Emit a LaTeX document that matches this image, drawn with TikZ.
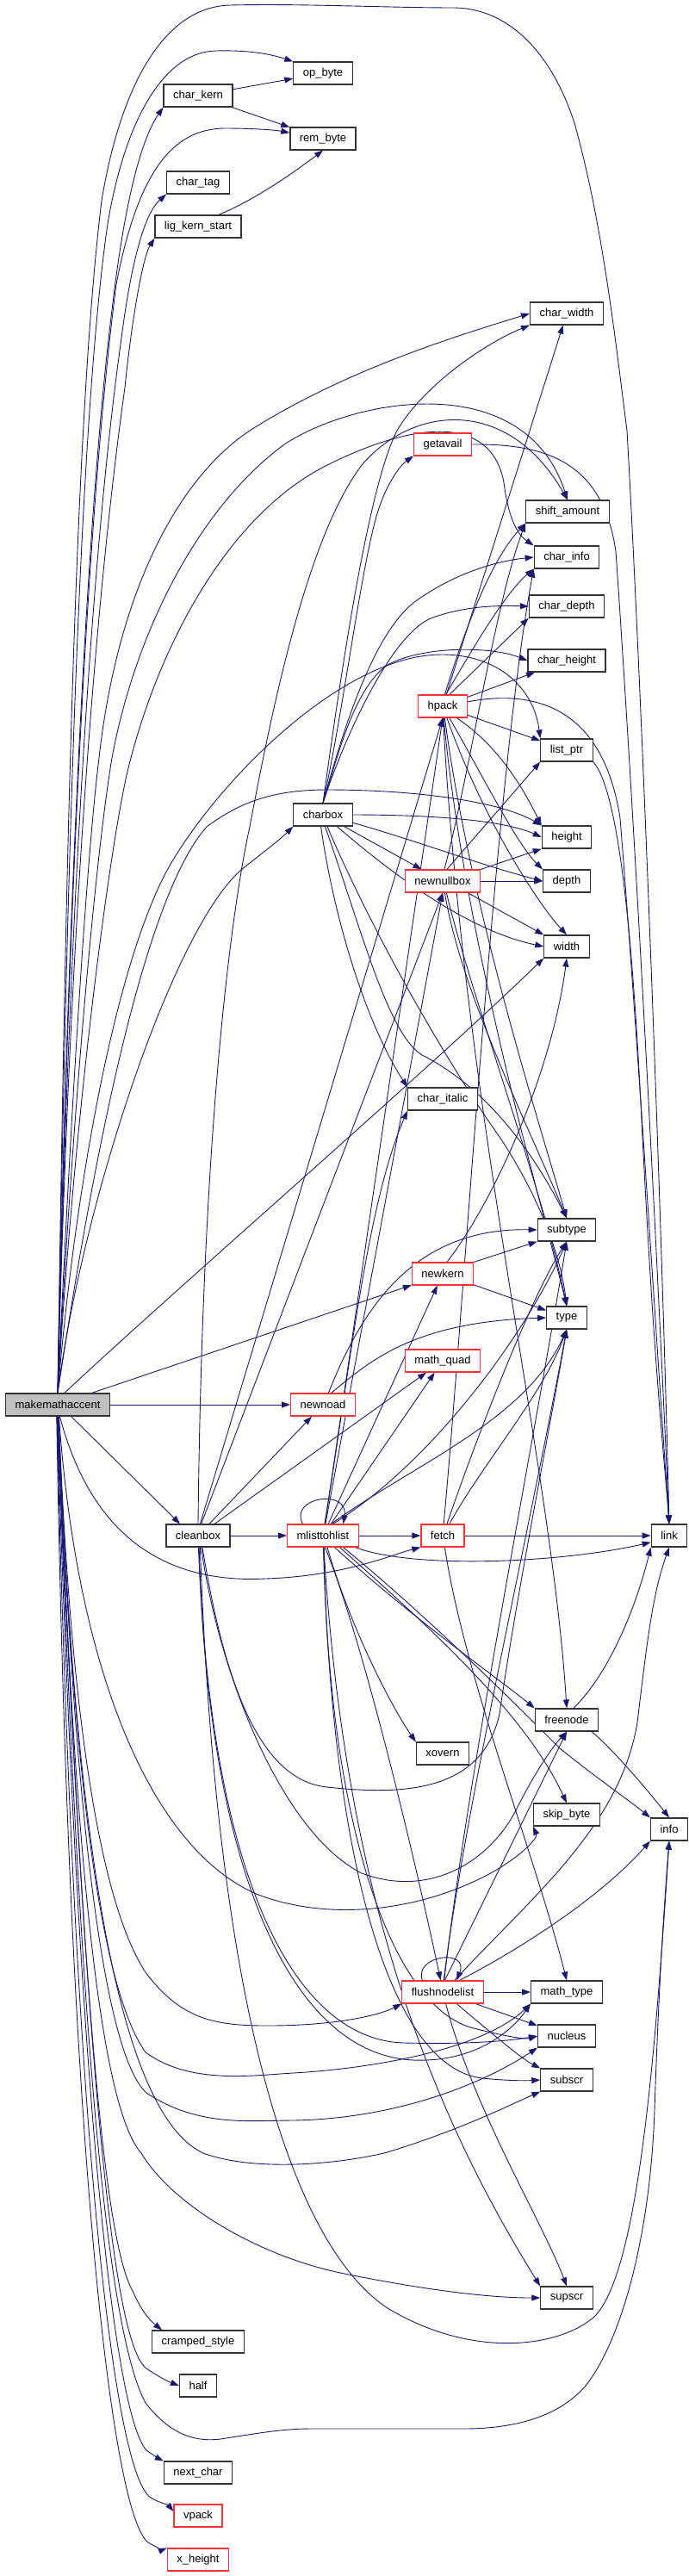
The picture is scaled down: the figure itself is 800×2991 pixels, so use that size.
\documentclass[tikz,border=0pt]{standalone}
\usepackage{fontspec}
\setmainfont{Liberation Sans}
\usetikzlibrary{arrows.meta}
\pgfdeclarelayer{bg}
\pgfsetlayers{bg,main}
\definecolor{eb}{HTML}{191970}
\definecolor{nred}{HTML}{FF3030}
\definecolor{ngray}{HTML}{BFBFBF}
\begin{document}
\begin{tikzpicture}[x=1pt,y=-1pt,
  box/.style={draw=black!80, line width=1.2pt, fill=white, minimum height=26pt, inner xsep=11pt, inner ysep=0pt, font=\fontsize{13}{13}\selectfont},
  rbox/.style={box, draw=nred},
  gbox/.style={box, fill=ngray},
  conn/.style={draw=eb, line width=0.9pt, -{Triangle[length=10pt,width=7pt]}}]
\useasboundingbox (0,0) rectangle (800,2991);
% nodes
\node[box] (opb) at (375,85) {op\_byte};
\node[box] (ck) at (230,111) {char\_kern};
\node[box] (rb) at (375,161) {rem\_byte};
\node[box] (ct) at (230,212) {char\_tag};
\node[box] (lks) at (230,263) {lig\_kern\_start};
\node[box] (cw) at (658,364) {char\_width};
\node[rbox] (ga) at (514,516) {getavail};
\node[box] (sa) at (659,594) {shift\_amount};
\node[box] (ci) at (658,647) {char\_info};
\node[box] (cd) at (658,704) {char\_depth};
\node[box] (chh) at (658,767) {char\_height};
\node[rbox] (hp) at (514,820) {hpack};
\node[box] (lp) at (658,871) {list\_ptr};
\node[box] (cb) at (375,946) {charbox};
\node[box] (ht) at (658,972) {height};
\node[rbox] (nnb) at (514,1023) {newnullbox};
\node[box] (dp) at (658,1023) {depth};
\node[box] (wd) at (658,1099) {width};
\node[box] (cit) at (514,1276) {char\_italic};
\node[box] (st) at (658,1428) {subtype};
\node[rbox] (nk) at (514,1479) {newkern};
\node[box] (ty) at (658,1530) {type};
\node[rbox] (mq) at (514,1580) {math\_quad};
\node[gbox] (M) at (67,1631) {makemathaccent};
\node[rbox] (nn) at (375,1631) {newnoad};
\node[box] (cl) at (230,1783) {cleanbox};
\node[rbox] (ml) at (375,1783) {mlisttohlist};
\node[rbox] (fe) at (514,1783) {fetch};
\node[box] (lk) at (777,1783) {link};
\node[box] (fn) at (658,1997) {freenode};
\node[box] (xo) at (514,2036) {xovern};
\node[box] (sb) at (658,2107) {skip\_byte};
\node[box] (inf) at (777,2124) {info};
\node[rbox] (fl) at (514,2313) {flushnodelist};
\node[box] (mt) at (658,2313) {math\_type};
\node[box] (nu) at (658,2364) {nucleus};
\node[box] (ss) at (658,2415) {subscr};
\node[box] (sp) at (658,2668) {supscr};
\node[box] (cs) at (230,2719) {cramped\_style};
\node[box] (hf) at (230,2770) {half};
\node[box] (nc) at (230,2871) {next\_char};
\node[rbox] (vp) at (230,2921) {vpack};
\node[rbox] (xh) at (230,2972) {x\_height};
\begin{pgfonlayer}{bg}
% makemathaccent upward
\draw[conn] (M.north) .. controls (75,1100) and (85,500) .. (118,233) .. controls (140,100) and (190,8) .. (267,6) .. controls (350,4) and (450,9) .. (528,9) .. controls (590,10) and (640,60) .. (667,143) .. controls (700,260) and (715,400) .. (728,500) .. controls (745,800) and (768,1400) .. (lk.north);
\draw[conn] (M.north) .. controls (76,1100) and (90,500) .. (125,260) .. controls (145,140) and (190,60) .. (251,59) .. controls (290,58) and (315,63) .. (opb.north west);
\draw[conn] (M.north) .. controls (77,1100) and (100,600) .. (130,360) .. controls (145,230) and (165,160) .. (ck.south west);
\draw[conn] (M.north) .. controls (78,1100) and (100,600) .. (135,330) .. controls (160,200) and (200,150) .. (260,149) .. controls (295,149) and (320,151) .. (rb.170);
\draw[conn] (M.north) .. controls (79,1100) and (105,650) .. (140,400) .. controls (150,320) and (165,250) .. (ct.south west);
\draw[conn] (M.north) .. controls (80,1100) and (110,700) .. (145,450) .. controls (152,380) and (165,300) .. (lks.south west);
\draw[conn] (M.north) .. controls (82,1300) and (100,1000) .. (115,880) .. controls (135,700) and (200,560) .. (290,500) .. controls (400,430) and (530,390) .. (cw.west);
\draw[conn] (M.north) .. controls (84,1300) and (110,1000) .. (130,880) .. controls (160,720) and (240,580) .. (333,514) .. controls (420,460) and (610,430) .. (sa.north);
\draw[conn] (M.north) .. controls (86,1300) and (125,1000) .. (147,900) .. controls (180,760) and (260,600) .. (380,540) .. controls (480,490) and (570,480) .. (585,560) .. controls (590,600) and (600,620) .. (ci.north west);
\draw[conn] (M.north) .. controls (90,1350) and (140,1100) .. (200,1000) .. controls (260,900) and (400,760) .. (513,760) .. controls (580,760) and (620,800) .. (lp.north west);
\draw[conn] (M.north) .. controls (95,1400) and (200,1080) .. (280,1010) .. controls (305,990) and (325,975) .. (cb.south west);
\draw[conn] (M.north) .. controls (100,1400) and (160,1050) .. (240,960) .. controls (280,930) and (320,917) .. (380,917) .. controls (480,917) and (580,930) .. (ht.north west);
\draw[conn] (M.60) .. controls (200,1500) and (500,1240) .. (wd.south west);
\draw[conn] (M.19) -- (nk.200);
\draw[conn] (M) -- (nn);
\draw[conn] (M.-41) -- (cl.147);
% makemathaccent downward
\draw[conn] (M.-80) .. controls (100,1760) and (170,1840) .. (308,1833) .. controls (400,1830) and (455,1805) .. (fe.south west);
\draw[conn] (M.-84) .. controls (90,1950) and (180,2150) .. (300,2200) .. controls (380,2230) and (480,2220) .. (560,2180) .. controls (600,2160) and (625,2135) .. (sb.south west);
\draw[conn] (M.-85) .. controls (80,1950) and (110,2200) .. (169,2290) .. controls (210,2345) and (250,2352) .. (310,2352) .. controls (390,2352) and (440,2340) .. (fl.south west);
\draw[conn] (M.-86) .. controls (82,2000) and (110,2300) .. (169,2383) .. controls (220,2420) and (290,2410) .. (340,2407) .. controls (430,2402) and (560,2380) .. (mt.south west);
\draw[conn] (M.-87) .. controls (84,2050) and (115,2380) .. (170,2430) .. controls (230,2470) and (290,2462) .. (340,2462) .. controls (460,2460) and (560,2420) .. (nu.south west);
\draw[conn] (M.-88) .. controls (86,2100) and (130,2450) .. (236,2500) .. controls (290,2520) and (380,2515) .. (446,2500) .. controls (530,2475) and (590,2445) .. (ss.south west);
\draw[conn] (M.-89) .. controls (88,2200) and (120,2450) .. (164,2500) .. controls (200,2560) and (300,2620) .. (400,2640) .. controls (500,2660) and (570,2668) .. (sp.west);
\draw[conn] (M.-90) .. controls (90,2300) and (120,2700) .. (169,2790) .. controls (200,2830) and (230,2835) .. (256,2832) .. controls (300,2825) and (330,2820) .. (359,2820) -- (538,2820) .. controls (600,2820) and (650,2805) .. (680,2770) .. controls (720,2720) and (755,2600) .. (760,2450) .. controls (765,2300) and (772,2200) .. (inf.south);
\draw[conn] (M.-91) .. controls (95,2300) and (120,2600) .. (154,2660) .. controls (165,2685) and (175,2695) .. (cs.162);
\draw[conn] (M.-92) .. controls (100,2400) and (130,2720) .. (170,2750) .. controls (185,2760) and (195,2765) .. (hf.west);
\draw[conn] (M.-93) .. controls (90,2400) and (130,2800) .. (170,2845) .. controls (180,2852) and (185,2855) .. (nc.north west);
\draw[conn] (M.-94) .. controls (85,2450) and (130,2870) .. (175,2900) .. controls (185,2906) and (195,2908) .. (vp.170);
\draw[conn] (M.-95) .. controls (80,2500) and (130,2920) .. (172,2952) .. controls (180,2957) and (190,2960) .. (xh.north west);
% char_kern, lig_kern_start
\draw[conn] (ck) -- (opb);
\draw[conn] (ck) -- (rb);
\draw[conn] (lks.30) .. controls (290,235) and (335,205) .. (rb.south);
% charbox
\draw[conn] (cb.north) .. controls (400,820) and (420,650) .. (440,590) .. controls (450,560) and (465,540) .. (ga.south west);
\draw[conn] (cb.north) .. controls (400,750) and (430,560) .. (461,500) .. controls (490,450) and (560,400) .. (cw.south west);
\draw[conn] (cb.north) .. controls (395,860) and (430,740) .. (480,700) .. controls (520,670) and (570,652) .. (ci.west);
\draw[conn] (cb.north) .. controls (395,870) and (450,740) .. (500,718) .. controls (540,703) and (580,703) .. (cd.west);
\draw[conn] (cb.north) .. controls (392,880) and (410,800) .. (450,772) .. controls (490,750) and (570,750) .. (chh.west);
\draw[conn] (cb.east) .. controls (480,946) and (580,950) .. (ht.west);
\draw[conn] (cb.-15) .. controls (480,975) and (560,1005) .. (dp.west);
\draw[conn] (cb) -- (nnb);
\draw[conn] (cb.-40) .. controls (450,1010) and (540,1080) .. (wd.west);
\draw[conn] (cb.-100) .. controls (385,1050) and (420,1180) .. (cit.north west);
\draw[conn] (cb.-80) .. controls (420,1080) and (450,1200) .. (490,1225) .. controls (560,1260) and (615,1330) .. (st.north);
\draw[conn] (cb.-70) .. controls (440,1100) and (530,1250) .. (580,1320) .. controls (620,1380) and (650,1450) .. (ty.north);
% hpack
\draw[conn] (hp) -- (cw);
\draw[conn] (hp.80) .. controls (540,730) and (570,650) .. (sa.south west);
\draw[conn] (hp.75) .. controls (545,760) and (585,690) .. (ci.south west);
\draw[conn] (hp.60) -- (cd.south west);
\draw[conn] (hp) -- (chh);
\draw[conn] (hp) -- (lp);
\draw[conn] (hp.10) .. controls (620,800) and (700,820) .. (720,950) .. controls (740,1200) and (765,1600) .. (lk.north);
\draw[conn] (hp.-40) .. controls (570,860) and (600,900) .. (ht.north west);
\draw[conn] (hp.-60) .. controls (560,900) and (600,980) .. (dp.north west);
\draw[conn] (hp.-70) .. controls (560,950) and (625,1050) .. (wd.north);
\draw[conn] (hp.-80) .. controls (545,1050) and (625,1300) .. (st.north);
\draw[conn] (hp.-85) .. controls (540,1100) and (630,1400) .. (ty.north);
\draw[conn] (hp.-88) .. controls (540,1300) and (640,1700) .. (fn.north);
% newnullbox
\draw[conn] (nnb.70) -- (lp.south west);
\draw[conn] (nnb.north east) -- (ht.south west);
\draw[conn] (nnb) -- (dp);
\draw[conn] (nnb.-25) -- (wd.north west);
\draw[conn] (nnb.82) .. controls (545,900) and (575,700) .. (sa.south west);
\draw[conn] (nnb.-80) .. controls (535,1150) and (610,1300) .. (st.north);
\draw[conn] (nnb.-72) .. controls (545,1150) and (630,1380) .. (ty.north);
% newkern
\draw[conn] (nk.north east) -- (st.south west);
\draw[conn] (nk) -- (ty);
\draw[conn] (nk.70) .. controls (570,1400) and (640,1250) .. (wd.south);
% newnoad
\draw[conn] (nn.65) .. controls (420,1520) and (480,1425) .. (st.west);
\draw[conn] (nn.55) .. controls (430,1580) and (480,1535) .. (ty.west);
% cleanbox
\draw[conn] (cl) -- (ml);
\draw[conn] (cl) -- (nn);
\draw[conn] (cl) -- (mq);
\draw[conn] (cl.80) -- (hp.south);
\draw[conn] (cl.75) -- (nnb.south);
\draw[conn] (cl.north) .. controls (235,1300) and (270,1050) .. (290,960) .. controls (320,800) and (360,620) .. (420,540) .. controls (480,470) and (590,460) .. (sa.north);
\draw[conn] (cl.-70) .. controls (260,1950) and (300,2067) .. (380,2075) .. controls (470,2085) and (560,2080) .. (580,1990) .. controls (600,1850) and (640,1650) .. (ty.south);
\draw[conn] (cl.-75) .. controls (255,1950) and (330,2130) .. (420,2175) .. controls (500,2205) and (570,2160) .. (600,2100) .. controls (620,2060) and (640,2030) .. (fn.south);
\draw[conn] (cl.-80) .. controls (250,2300) and (330,2600) .. (450,2680) .. controls (550,2740) and (650,2725) .. (690,2690) .. controls (740,2640) and (760,2400) .. (inf.south);
\draw[conn] (cl.-85) .. controls (240,2150) and (330,2385) .. (480,2392) .. controls (560,2395) and (600,2350) .. (mt.south west);
\draw[conn] (cl.-88) .. controls (245,2200) and (350,2370) .. (470,2372) .. controls (560,2374) and (600,2368) .. (nu.west);
% mlisttohlist
\draw[conn] (ml.150) .. controls (335,1738) and (405,1728) .. (ml.30);
\draw[conn] (ml) -- (fe);
\draw[conn] (ml.-20) .. controls (480,1822) and (650,1815) .. (lk.200);
\draw[conn] (ml) -- (mq);
\draw[conn] (ml.80) -- (hp.south);
\draw[conn] (ml.78) -- (nnb.south);
\draw[conn] (ml) -- (nk);
\draw[conn] (ml.82) .. controls (405,1600) and (425,1400) .. (cit.south west);
\draw[conn] (ml.55) .. controls (480,1700) and (610,1650) .. (ty.south);
\draw[conn] (ml.50) .. controls (500,1700) and (610,1550) .. (st.south);
\draw[conn] (ml.-45) .. controls (480,1880) and (580,1950) .. (fn.north west);
\draw[conn] (ml.-70) .. controls (410,1900) and (460,1990) .. (xo.north west);
\draw[conn] (ml.-80) .. controls (420,1900) and (480,2150) .. (fl.100);
\draw[conn] (ml.-85) .. controls (380,2100) and (450,2330) .. (550,2355) .. controls (590,2365) and (610,2368) .. (nu.west);
\draw[conn] (ml.-88) .. controls (385,2150) and (450,2400) .. (560,2413) .. controls (590,2416) and (610,2416) .. (ss.west);
\draw[conn] (ml.-86) .. controls (400,2200) and (500,2450) .. (sp.north west);
\draw[conn] (ml.-30) .. controls (500,1880) and (600,1980) .. (650,2030) .. controls (700,2070) and (730,2090) .. (inf.north west);
\draw[conn] (ml.-35) .. controls (500,1890) and (610,1990) .. (sb.north);
% fetch
\draw[conn] (fe) -- (lk);
\draw[conn] (fe.60) .. controls (560,1700) and (630,1620) .. (ty.south);
\draw[conn] (fe.70) .. controls (560,1650) and (620,1500) .. (st.south);
\draw[conn] (fe.85) .. controls (540,1500) and (575,900) .. (ci.south west);
\draw[conn] (fe.-80) .. controls (540,1950) and (620,2150) .. (mt.north);
% flushnodelist
\draw[conn] (fl.150) .. controls (480,2270) and (545,2262) .. (fl.40);
\draw[conn] (fl) -- (mt);
\draw[conn] (fl) -- (nu);
\draw[conn] (fl.-40) .. controls (570,2360) and (605,2390) .. (ss.north west);
\draw[conn] (fl.-75) .. controls (550,2450) and (630,2580) .. (sp.north);
\draw[conn] (fl.35) .. controls (610,2260) and (700,2200) .. (inf.south west);
\draw[conn] (fl.80) -- (fn.south);
\draw[conn] (fl.45) .. controls (620,2200) and (720,2120) .. (740,2000) .. controls (752,1900) and (758,1850) .. (lk.south);
\draw[conn] (fl.85) .. controls (540,2100) and (610,1800) .. (ty.south);
\draw[conn] (fl.83) .. controls (545,2050) and (615,1700) .. (st.south);
% freenode, getavail, list_ptr
\draw[conn] (fn.60) .. controls (710,1940) and (740,1860) .. (lk.south west);
\draw[conn] (fn.-25) .. controls (710,2030) and (745,2070) .. (inf.north);
\draw[conn] (ga.east) .. controls (640,515) and (700,540) .. (715,640) .. controls (740,1000) and (765,1500) .. (lk.north);
\draw[conn] (lp.south east) .. controls (720,920) and (735,1100) .. (745,1300) .. controls (760,1600) and (772,1700) .. (lk.north);
\end{pgfonlayer}
\end{tikzpicture}
\end{document}
